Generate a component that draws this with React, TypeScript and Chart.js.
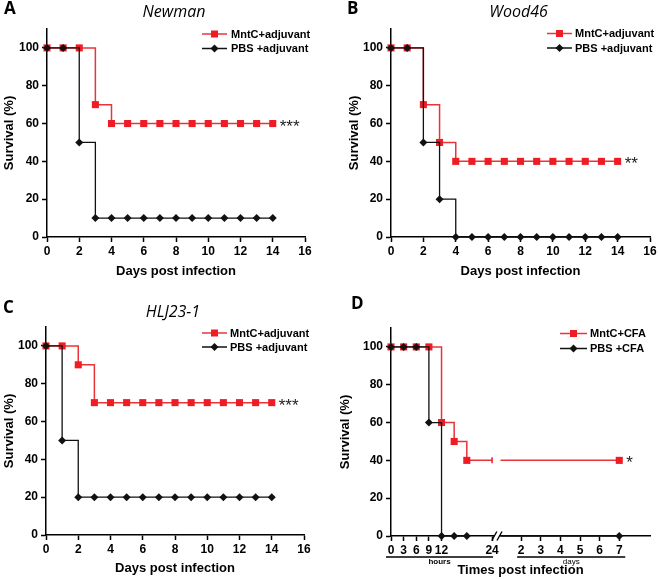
import React, { useEffect, useRef } from 'react';
import { Chart, registerables } from 'chart.js';

Chart.register(...registerables);

// ---------------- data ----------------
const days = [0, 1, 2, 3, 4, 5, 6, 7, 8, 9, 10, 11, 12, 13, 14];
const newmanMntC = [100, 100, 100, 70, 60, 60, 60, 60, 60, 60, 60, 60, 60, 60, 60];
const newmanPBS = [100, 100, 50, 10, 10, 10, 10, 10, 10, 10, 10, 10, 10, 10, 10];
const wood46MntC = [100, 100, 70, 50, 40, 40, 40, 40, 40, 40, 40, 40, 40, 40, 40];
const wood46PBS = [100, 100, 50, 20, 0, 0, 0, 0, 0, 0, 0, 0, 0, 0, 0];
const hljMntC = [100, 100, 90, 70, 70, 70, 70, 70, 70, 70, 70, 70, 70, 70, 70];
const hljPBS = [100, 50, 20, 20, 20, 20, 20, 20, 20, 20, 20, 20, 20, 20, 20];

const cfaHours = [0, 3, 6, 9, 12, 15, 18, 24];
const cfaMntCHours = [100, 100, 100, 100, 60, 50, 40, 40];
const cfaPBSHours = [100, 100, 100, 60, 0, 0, 0];
const cfaDays = [7];
const cfaMntCDays = [40];
const cfaPBSDays = [0];

const yTickValues = [0, 20, 40, 60, 80, 100];
const dayTickValues = [0, 2, 4, 6, 8, 10, 12, 14, 16];
const cfaHourTicks = [0, 3, 6, 9, 12, 24];
const cfaDayTicks = [2, 3, 4, 5, 6, 7];

// broken axis of panel D: hours are axis units, days are placed after the break
const D_DAY2_POS = 30.9;
const D_DAY_STEP = 4.66;
const D_AXIS_MAX = 61.5;
const D_BREAK_FROM = 24.3;
const D_BREAK_TO = 26;
const dayPos = (d: number) => D_DAY2_POS + (d - 2) * D_DAY_STEP;

// ---------------- style ----------------
const FONT = '"Liberation Sans", Arial, sans-serif';
const TITLE_FONT = '"Open Sans", "DejaVu Sans", sans-serif';
const RED = '#ee1c24';
const RED_LINE = '#e8343a';
const BLACK = '#111111';

type Panel = {
  key: string;
  left: number;
  top: number;
  w: number;
  h: number;
  letter: string;
  letterX: number;
  letterY: number;
  title: string;
  titleY: number;
  pad: { left: number; right: number; top: number; bottom: number };
  yWidth: number;
  xHeight: number;
  xTitlePad: number;
  yTitlePad: number;
  xMax: number;
  xTickValues: number[];
  xTickLabels: string[];
  xTitle: string;
  legend: { x1: number; x2: number; tx: number; rows: number[]; labels: string[] };
  stars: string;
  datasets: any[];
  broken?: boolean;
};

function kmData(xs: number[], ys: number[]) {
  return xs.map((x, i) => ({ x, y: ys[i] }));
}

function redSet(data: any[], extra: any = {}) {
  return {
    label: 'MntC',
    data,
    borderColor: RED_LINE,
    backgroundColor: RED,
    borderWidth: 1.5,
    stepped: 'before',
    pointStyle: 'rect',
    pointRadius: 5,
    pointBorderWidth: 0,
    pointBackgroundColor: RED,
    pointBorderColor: RED,
    clip: false,
    order: 2,
    ...extra,
  };
}

function blackSet(data: any[], extra: any = {}) {
  return {
    label: 'PBS',
    data,
    borderColor: BLACK,
    backgroundColor: BLACK,
    borderWidth: 1.3,
    stepped: 'before',
    pointStyle: 'rectRot',
    pointRadius: 4,
    pointBorderWidth: 0,
    pointBackgroundColor: BLACK,
    pointBorderColor: BLACK,
    clip: false,
    order: 1,
    ...extra,
  };
}

// panel D series built from the arrays above
const dRedData = [
  ...kmData(cfaHours, cfaMntCHours),
  { x: (D_BREAK_FROM + D_BREAK_TO) / 2, y: null },
  { x: D_BREAK_TO, y: cfaMntCHours[cfaMntCHours.length - 1] },
  ...cfaDays.map((d, i) => ({ x: dayPos(d), y: cfaMntCDays[i] })),
];
const dRedStyles = dRedData.map((_, i) => {
  const nH = cfaHours.length;
  if (i < nH - 1) return { s: 'rect', r: 5, rot: 0, bw: 0 };
  if (i === nH - 1) return { s: 'line', r: 3, rot: 90, bw: 1.5 };
  if (i === nH || i === nH + 1) return { s: 'rect', r: 0, rot: 0, bw: 0 };
  return { s: 'rect', r: 5, rot: 0, bw: 0 };
});
const dBlackData = [
  ...kmData(cfaHours.slice(0, cfaPBSHours.length), cfaPBSHours),
  { x: (D_BREAK_FROM + D_BREAK_TO) / 2, y: null },
  { x: D_BREAK_TO, y: cfaPBSHours[cfaPBSHours.length - 1] },
  ...cfaDays.map((d, i) => ({ x: dayPos(d), y: cfaPBSDays[i] })),
];
const dBlackRadius = dBlackData.map((p, i) =>
  i === cfaPBSHours.length || i === cfaPBSHours.length + 1 ? 0 : 4
);

const panels: Panel[] = [
  {
    key: 'A', left: 0, top: 0, w: 330, h: 290,
    letter: 'A', letterX: 4, letterY: 14, title: 'Newman', titleY: 17,
    pad: { left: 0, right: 25, top: 29, bottom: 0 },
    yWidth: 47, xHeight: 53, xTitlePad: 11, yTitlePad: 2,
    xMax: 16, xTickValues: dayTickValues, xTickLabels: dayTickValues.map(String),
    xTitle: 'Days post infection',
    legend: { x1: 202, x2: 227, tx: 231, rows: [34, 48.5], labels: ['MntC+adjuvant', 'PBS +adjuvant'] },
    stars: '***',
    datasets: [blackSet(kmData(days, newmanPBS)), redSet(kmData(days, newmanMntC))],
  },
  {
    key: 'B', left: 330, top: 0, w: 330, h: 290,
    letter: 'B', letterX: 17, letterY: 14, title: 'Wood46', titleY: 17,
    pad: { left: 14, right: 10, top: 29, bottom: 0 },
    yWidth: 47, xHeight: 53, xTitlePad: 11, yTitlePad: 3,
    xMax: 16, xTickValues: dayTickValues, xTickLabels: dayTickValues.map(String),
    xTitle: 'Days post infection',
    legend: { x1: 217, x2: 242, tx: 245, rows: [33.5, 48], labels: ['MntC+adjuvant', 'PBS +adjuvant'] },
    stars: '**',
    datasets: [blackSet(kmData(days, wood46PBS)), redSet(kmData(days, wood46MntC))],
  },
  {
    key: 'C', left: 0, top: 290, w: 330, h: 289,
    letter: 'C', letterX: 3, letterY: 23, title: 'HLJ23-1', titleY: 27,
    pad: { left: 0, right: 26, top: 37, bottom: 0 },
    yWidth: 46, xHeight: 44, xTitlePad: 3, yTitlePad: 2,
    xMax: 16, xTickValues: dayTickValues, xTickLabels: dayTickValues.map(String),
    xTitle: 'Days post infection',
    legend: { x1: 202, x2: 227, tx: 230, rows: [43, 57], labels: ['MntC+adjuvant', 'PBS +adjuvant'] },
    stars: '***',
    datasets: [blackSet(kmData(days, hljPBS)), redSet(kmData(days, hljMntC))],
  },
  {
    key: 'D', left: 330, top: 290, w: 330, h: 289,
    letter: 'D', letterX: 21, letterY: 19, title: '', titleY: 0,
    pad: { left: 6, right: 10, top: 38, bottom: 0 },
    yWidth: 55, xHeight: 43, xTitlePad: 1, yTitlePad: 2,
    xMax: D_AXIS_MAX,
    xTickValues: [...cfaHourTicks, ...cfaDayTicks.map(dayPos)],
    xTickLabels: [...cfaHourTicks, ...cfaDayTicks].map(String),
    xTitle: 'Times post infection',
    legend: { x1: 230, x2: 257, tx: 260, rows: [43.5, 58.5], labels: ['MntC+CFA', 'PBS +CFA'] },
    stars: '*',
    broken: true,
    datasets: [
      blackSet(dBlackData, { pointRadius: dBlackRadius }),
      redSet(dRedData, {
        pointStyle: dRedStyles.map((s) => s.s),
        pointRadius: dRedStyles.map((s) => s.r),
        pointRotation: dRedStyles.map((s) => s.rot),
        pointBorderWidth: dRedStyles.map((s) => s.bw),
      }),
    ],
  },
];

function drawMarker(ctx: CanvasRenderingContext2D, kind: string, x: number, y: number) {
  ctx.beginPath();
  if (kind === 'rect') {
    ctx.fillStyle = RED;
    ctx.rect(x - 3.5, y - 3.5, 7, 7);
  } else {
    ctx.fillStyle = BLACK;
    ctx.moveTo(x, y - 4);
    ctx.lineTo(x + 4, y);
    ctx.lineTo(x, y + 4);
    ctx.lineTo(x - 4, y);
    ctx.closePath();
  }
  ctx.fill();
}

function makeDecor(p: Panel) {
  return {
    id: 'decor' + p.key,
    afterDraw(chart: any) {
      const ctx: CanvasRenderingContext2D = chart.ctx;
      const area = chart.chartArea;
      const xs = chart.scales.x;
      const ys = chart.scales.y;
      ctx.save();
      // panel letter
      ctx.fillStyle = '#000';
      ctx.textAlign = 'left';
      ctx.textBaseline = 'alphabetic';
      ctx.font = `bold 17px ${TITLE_FONT}`;
      ctx.fillText(p.letter, p.letterX, p.letterY);
      // title
      if (p.title) {
        ctx.font = `italic 16px ${TITLE_FONT}`;
        ctx.textAlign = 'center';
        ctx.fillText(p.title, (area.left + area.right) / 2 - 2, p.titleY);
      }
      // legend
      const lg = p.legend;
      const cols = [RED_LINE, BLACK];
      const kinds = ['rect', 'diamond'];
      lg.rows.forEach((ry, i) => {
        ctx.strokeStyle = cols[i];
        ctx.lineWidth = 1.5;
        ctx.beginPath();
        ctx.moveTo(lg.x1, ry);
        ctx.lineTo(lg.x2, ry);
        ctx.stroke();
        drawMarker(ctx, kinds[i], (lg.x1 + lg.x2) / 2, ry);
        ctx.fillStyle = '#000';
        ctx.font = `bold 11px ${FONT}`;
        ctx.textAlign = 'left';
        ctx.textBaseline = 'middle';
        ctx.fillText(lg.labels[i], lg.tx, ry + 0.5);
      });
      // significance stars next to the last point of the red curve
      const red = p.datasets[1].data;
      const last = red[red.length - 1];
      ctx.font = `17px ${FONT}`;
      ctx.fillStyle = '#222';
      ctx.textAlign = 'left';
      ctx.textBaseline = 'alphabetic';
      ctx.fillText(p.stars, xs.getPixelForValue(last.x) + 7, ys.getPixelForValue(last.y) + 8);

      if (p.broken) {
        const y0 = ys.getPixelForValue(0);
        const bx1 = xs.getPixelForValue(D_BREAK_FROM);
        const bx2 = xs.getPixelForValue(D_BREAK_TO);
        ctx.fillStyle = '#fff';
        ctx.fillRect(bx1 + 1, y0 - 2, bx2 - bx1 - 2, 4);
        ctx.strokeStyle = '#000';
        ctx.lineWidth = 1.4;
        [bx1 + 1, bx2 - 1].forEach((bx) => {
          ctx.beginPath();
          ctx.moveTo(bx - 2.5, y0 + 4.5);
          ctx.lineTo(bx + 2.5, y0 - 4.5);
          ctx.stroke();
        });
        // hours / days group underlines
        const uy = y0 + 21;
        const h0 = xs.getPixelForValue(cfaHourTicks[0]) - 5;
        const h1 = xs.getPixelForValue(cfaHourTicks[cfaHourTicks.length - 1]) + 1;
        const d0 = xs.getPixelForValue(dayPos(cfaDayTicks[0])) - 4;
        const d1 = xs.getPixelForValue(dayPos(cfaDayTicks[cfaDayTicks.length - 1])) + 6;
        ctx.lineWidth = 1.3;
        ctx.beginPath();
        ctx.moveTo(h0, uy);
        ctx.lineTo(h1, uy);
        ctx.moveTo(d0, uy);
        ctx.lineTo(d1, uy);
        ctx.stroke();
        ctx.fillStyle = '#000';
        ctx.textAlign = 'center';
        ctx.textBaseline = 'middle';
        ctx.font = `bold 8px ${FONT}`;
        ctx.fillText('hours', (h0 + h1) / 2, uy + 5);
        ctx.font = `8px ${FONT}`;
        ctx.fillText('days', (d0 + d1) / 2, uy + 5);
      }
      ctx.restore();
    },
  };
}

function buildConfig(p: Panel): any {
  const tickFont = { family: FONT, size: 12, weight: 'bold' };
  const titleFont = { family: FONT, size: 13, weight: 'bold' };
  const grid = {
    display: true,
    drawOnChartArea: false,
    drawTicks: true,
    tickLength: 5,
    tickWidth: 1.5,
    tickColor: '#000',
  };
  const border = { display: true, color: '#000', width: 1.5 };
  return {
    type: 'line',
    data: { datasets: p.datasets },
    options: {
      animation: false,
      responsive: false,
      maintainAspectRatio: false,
      events: [],
      layout: { padding: p.pad },
      plugins: {
        legend: { display: false },
        title: { display: false },
        tooltip: { enabled: false },
      },
      scales: {
        x: {
          type: 'linear',
          min: 0,
          max: p.xMax,
          afterFit: (s: any) => {
            s.height = p.xHeight;
          },
          afterBuildTicks: (s: any) => {
            s.ticks = p.xTickValues.map((v) => ({ value: v }));
          },
          ticks: {
            autoSkip: false,
            maxRotation: 0,
            minRotation: 0,
            color: '#000',
            padding: 2,
            font: tickFont,
            callback: (_v: any, i: number) => p.xTickLabels[i],
          },
          grid,
          border,
          title: {
            display: true,
            text: p.xTitle,
            color: '#000',
            font: titleFont,
            padding: { top: 0, bottom: p.xTitlePad },
          },
        },
        y: {
          type: 'linear',
          min: 0,
          max: 110,
          afterFit: (s: any) => {
            s.width = p.yWidth;
          },
          afterBuildTicks: (s: any) => {
            s.ticks = yTickValues.map((v) => ({ value: v }));
          },
          ticks: {
            color: '#000',
            padding: 3,
            font: tickFont,
            callback: (v: any) => String(v),
          },
          grid,
          border,
          title: {
            display: true,
            text: 'Survival (%)',
            color: '#000',
            font: titleFont,
            padding: { top: p.yTitlePad, bottom: 0 },
          },
        },
      },
    },
    plugins: [makeDecor(p)],
  };
}

function PanelChart({ p }: { p: Panel }) {
  const ref = useRef<HTMLCanvasElement | null>(null);
  useEffect(() => {
    if (!ref.current) return;
    const chart = new Chart(ref.current, buildConfig(p));
    return () => chart.destroy();
  }, [p]);
  return (
    <canvas
      ref={ref}
      width={p.w}
      height={p.h}
      style={{ position: 'absolute', left: p.left, top: p.top, width: p.w, height: p.h }}
    />
  );
}

export default function App() {
  return (
    <div
      style={{
        position: 'absolute',
        left: 0,
        top: 0,
        width: 660,
        height: 579,
        background: '#fff',
        overflow: 'hidden',
      }}
    >
      {panels.map((p) => (
        <PanelChart key={p.key} p={p} />
      ))}
    </div>
  );
}
